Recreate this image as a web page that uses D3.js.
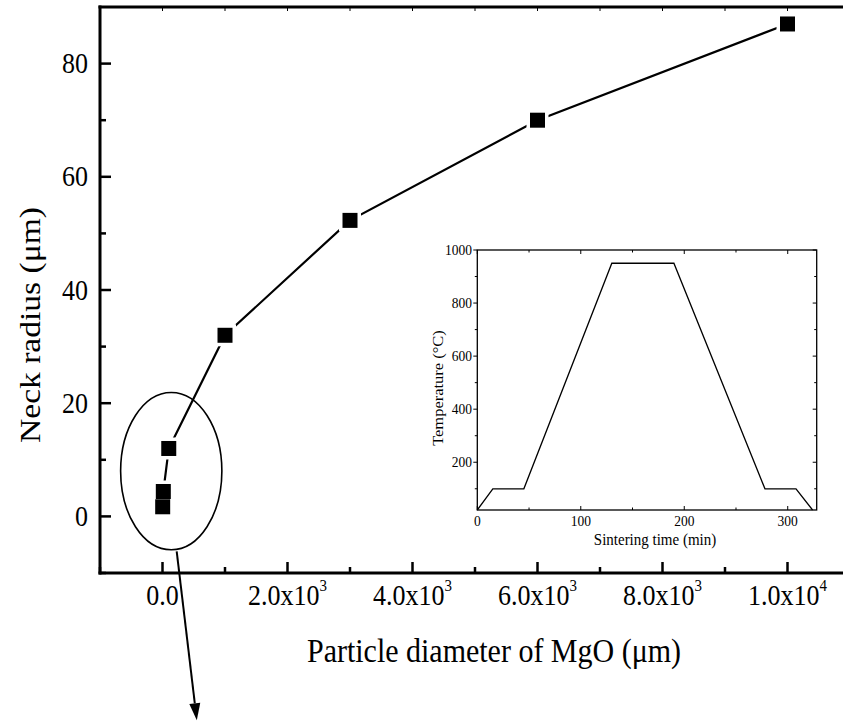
<!DOCTYPE html>
<html>
<head>
<meta charset="utf-8">
<script src="https://cdn.jsdelivr.net/npm/d3@7"></script>
<style>
  html, body { margin: 0; padding: 0; background: #fff; }
  svg { display: block; }
  text { font-family: "Liberation Serif", "Times New Roman", serif; fill: #000; }
</style>
</head>
<body>
<svg id="chart" width="843" height="722"></svg>
<script>
// Neck radius versus MgO particle diameter
const diameters = [3, 13, 100, 1000, 3000, 6000, 10000];
const neckRadius = [1.7, 4.4, 12, 32, 52.3, 70, 87];

const xMajorTicks = [0, 2000, 4000, 6000, 8000, 10000];
const xTickLabels = [["0.0", ""], ["2.0x10", "3"], ["4.0x10", "3"], ["6.0x10", "3"], ["8.0x10", "3"], ["1.0x10", "4"]];
const xMinorTicks = [-1000, 1000, 3000, 5000, 7000, 9000];
const yMajorTicks = [0, 20, 40, 60, 80];
const yMinorTicks = [-10, 10, 30, 50, 70];

// Inset: sintering temperature schedule
const sinterTime = [0, 15, 45, 130, 190, 278, 308, 324];
const sinterTemp = [20, 100, 100, 950, 950, 100, 100, 20];
const insetXTicks = [0, 100, 200, 300];
const insetXMinor = [50, 150, 250];
const insetYTicks = [200, 400, 600, 800, 1000];
const insetYMinor = [100, 300, 500, 700, 900];

const svg = d3.select("#chart");
const SY = 1.1; // glyph stretch along the vertical

const x = d3.scaleLinear().domain([-1000, 11000]).range([100, 850]);
const y = d3.scaleLinear().domain([-10, 90]).range([573, 7]);

// ---- main frame ----
const frame = svg.append("g").attr("stroke", "#000").attr("fill", "none");
frame.append("line").attr("x1", x(-1000)).attr("x2", x(-1000)).attr("y1", y(90) - 1.5).attr("y2", y(-10) + 1.5).attr("stroke-width", 3);
frame.append("line").attr("x1", x(-1000) - 1.5).attr("x2", 843).attr("y1", y(-10)).attr("y2", y(-10)).attr("stroke-width", 3);
frame.append("line").attr("x1", x(-1000) - 1.5).attr("x2", 843).attr("y1", y(90)).attr("y2", y(90)).attr("stroke-width", 3);

// left axis ticks (pointing into the plot)
frame.selectAll(".ymaj").data(yMajorTicks).join("line")
  .attr("x1", x(-1000)).attr("x2", x(-1000) + 11).attr("y1", d => y(d)).attr("y2", d => y(d)).attr("stroke-width", 2.5);
frame.selectAll(".ymin").data(yMinorTicks).join("line")
  .attr("x1", x(-1000)).attr("x2", x(-1000) + 6).attr("y1", d => y(d)).attr("y2", d => y(d)).attr("stroke-width", 2.5);
// bottom axis ticks
frame.selectAll(".xmaj").data(xMajorTicks).join("line")
  .attr("x1", d => x(d)).attr("x2", d => x(d)).attr("y1", y(-10)).attr("y2", y(-10) - 11).attr("stroke-width", 2.5);
frame.selectAll(".xmin").data(xMinorTicks).join("line")
  .attr("x1", d => x(d)).attr("x2", d => x(d)).attr("y1", y(-10)).attr("y2", y(-10) - 6).attr("stroke-width", 2.5);
// top axis ticks
frame.selectAll(".xtop").data(d3.range(0, 11000, 1000)).join("line")
  .attr("x1", d => x(d)).attr("x2", d => x(d)).attr("y1", y(90)).attr("y2", y(90) + 4).attr("stroke-width", 1);

// tick labels
svg.selectAll(".ylab").data(yMajorTicks).join("text")
  .attr("text-anchor", "end").attr("font-size", 26)
  .attr("transform", d => `translate(88,${y(d) + 9.5}) scale(1,${SY})`)
  .text(d => d);

const xl = svg.selectAll(".xlab").data(xMajorTicks).join("text")
  .attr("text-anchor", "middle").attr("font-size", 26)
  .attr("transform", d => `translate(${x(d)},605) scale(1,${SY})`);
xl.append("tspan").text((d, i) => xTickLabels[i][0]);
xl.append("tspan").attr("font-size", 15).attr("dy", -13).text((d, i) => xTickLabels[i][1]);

// axis titles
svg.append("text").attr("text-anchor", "middle").attr("font-size", 30)
  .attr("transform", `translate(494,662) scale(1,${SY})`)
  .text("Particle diameter of MgO (\u03bcm)");
svg.append("text").attr("text-anchor", "middle").attr("font-size", 30.5)
  .attr("transform", `translate(40,325) rotate(-90) scale(${SY},1)`)
  .text("Neck radius (\u03bcm)");

// ---- data series ----
const pts = diameters.map((d, i) => [x(d), y(neckRadius[i])]);
svg.append("path").attr("d", d3.line()(pts))
  .attr("fill", "none").attr("stroke", "#000").attr("stroke-width", 2.2);
const ms = 15, gap = 3.5;
svg.selectAll(".gap").data(pts).join("rect")
  .attr("x", d => d[0] - ms / 2 - gap).attr("y", d => d[1] - ms / 2 - gap)
  .attr("width", ms + 2 * gap).attr("height", ms + 2 * gap).attr("fill", "#fff");
svg.selectAll(".mk").data(pts).join("rect")
  .attr("x", d => d[0] - ms / 2).attr("y", d => d[1] - ms / 2)
  .attr("width", ms).attr("height", ms).attr("fill", "#000");

// ---- highlight ellipse and arrow for the small-diameter points ----
const ecx = 140, ecy = 8, erx = 810, ery = 13.9;
svg.append("ellipse")
  .attr("cx", x(ecx)).attr("cy", y(ecy))
  .attr("rx", x(ecx + erx) - x(ecx)).attr("ry", y(ecy - ery) - y(ecy))
  .attr("fill", "none").attr("stroke", "#000").attr("stroke-width", 1.6);

const a0 = [x(227), y(-6.2)], a1 = [x(549), y(-36)];
const ang = Math.atan2(a1[1] - a0[1], a1[0] - a0[0]);
const headLen = 17, headW = 5.5;
const base = [a1[0] - headLen * Math.cos(ang), a1[1] - headLen * Math.sin(ang)];
svg.append("line").attr("x1", a0[0]).attr("y1", a0[1]).attr("x2", base[0]).attr("y2", base[1])
  .attr("stroke", "#000").attr("stroke-width", 2);
svg.append("path").attr("fill", "#000")
  .attr("d", `M${a1[0]},${a1[1]} L${base[0] + headW * Math.sin(ang)},${base[1] - headW * Math.cos(ang)} L${base[0] - headW * Math.sin(ang)},${base[1] + headW * Math.cos(ang)} Z`);

// ---- inset ----
const ix = d3.scaleLinear().domain([0, 328]).range([477.3, 816.7]);
const iy = d3.scaleLinear().domain([20, 1000]).range([510, 250]);
const inset = svg.append("g");
inset.append("rect").attr("x", ix(0)).attr("y", iy(1000))
  .attr("width", ix(328) - ix(0)).attr("height", iy(20) - iy(1000))
  .attr("fill", "#fff").attr("stroke", "#000").attr("stroke-width", 1.3);

const it = inset.append("g").attr("stroke", "#000").attr("stroke-width", 1);
// left (outward) and right (inward) ticks
it.selectAll(".a").data(insetYTicks).join("line")
  .attr("x1", ix(0) - 4).attr("x2", ix(0)).attr("y1", d => iy(d)).attr("y2", d => iy(d));
it.selectAll(".b").data(insetYMinor).join("line")
  .attr("x1", ix(0) - 2.5).attr("x2", ix(0)).attr("y1", d => iy(d)).attr("y2", d => iy(d));
it.selectAll(".c").data(insetYTicks).join("line")
  .attr("x1", ix(328) - 4).attr("x2", ix(328)).attr("y1", d => iy(d)).attr("y2", d => iy(d));
it.selectAll(".d").data(insetYMinor).join("line")
  .attr("x1", ix(328) - 2.5).attr("x2", ix(328)).attr("y1", d => iy(d)).attr("y2", d => iy(d));
// bottom and top ticks (inward)
it.selectAll(".e").data(insetXTicks).join("line")
  .attr("x1", d => ix(d)).attr("x2", d => ix(d)).attr("y1", iy(20)).attr("y2", iy(20) - 4);
it.selectAll(".f").data(insetXMinor).join("line")
  .attr("x1", d => ix(d)).attr("x2", d => ix(d)).attr("y1", iy(20)).attr("y2", iy(20) - 2.5);
it.selectAll(".g").data(insetXTicks).join("line")
  .attr("x1", d => ix(d)).attr("x2", d => ix(d)).attr("y1", iy(1000)).attr("y2", iy(1000) + 4);
it.selectAll(".h").data(insetXMinor).join("line")
  .attr("x1", d => ix(d)).attr("x2", d => ix(d)).attr("y1", iy(1000)).attr("y2", iy(1000) + 2.5);

inset.selectAll(".iyl").data(insetYTicks).join("text")
  .attr("text-anchor", "end").attr("font-size", 13.5)
  .attr("transform", d => `translate(472,${iy(d) + 5}) scale(1,${SY})`)
  .text(d => d);
inset.selectAll(".ixl").data(insetXTicks).join("text")
  .attr("text-anchor", "middle").attr("font-size", 13.5)
  .attr("transform", d => `translate(${ix(d)},526) scale(1,${SY})`)
  .text(d => d);
inset.append("text").attr("text-anchor", "middle").attr("font-size", 15)
  .attr("transform", `translate(655,545) scale(1,${SY})`)
  .text("Sintering time (min)");
inset.append("text").attr("text-anchor", "middle").attr("font-size", 15)
  .attr("transform", `translate(443,388) rotate(-90) scale(${SY},1)`)
  .text("Temperature (\u00b0C)");

inset.append("path")
  .attr("d", d3.line()(sinterTime.map((t, i) => [ix(t), iy(sinterTemp[i])])))
  .attr("fill", "none").attr("stroke", "#000").attr("stroke-width", 1.3);
</script>
</body>
</html>
